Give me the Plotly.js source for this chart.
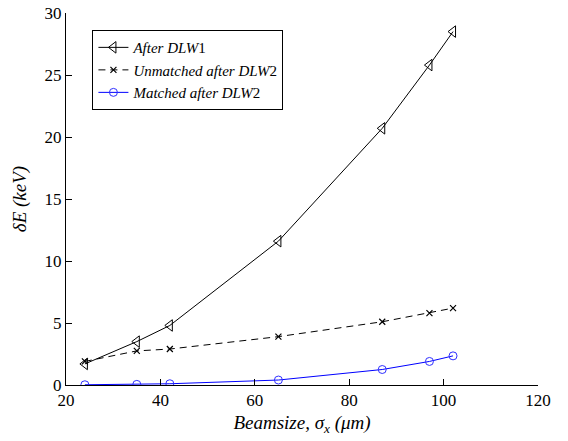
<!DOCTYPE html>
<html>
<head>
<meta charset="utf-8">
<script src="https://cdn.plot.ly/plotly-3.0.1.min.js"></script>
<style>html,body{margin:0;padding:0;background:#fff;}#chart{width:568px;height:441px;}</style>
</head>
<body>
<div id="chart"></div>
<script>
const beamsize = [24, 35, 42, 65, 87, 97, 102];
const afterDLW1 = [1.7, 3.5, 4.8, 11.6, 20.7, 25.8, 28.5];
const unmatchedDLW2 = [1.9, 2.75, 2.9, 3.9, 5.1, 5.8, 6.2];
const matchedDLW2 = [0.02, 0.05, 0.1, 0.4, 1.25, 1.9, 2.35];
const seriesNames = ['<i>After DLW</i>1', '<i>Unmatched after DLW</i>2', '<i>Matched after DLW</i>2'];

const traces = [
  {x: beamsize, y: afterDLW1, name: seriesNames[0], mode: 'lines+markers',
   line: {color: '#000', width: 1},
   marker: {symbol: 'triangle-left-open', size: 10, color: '#000', line: {width: 1}}},
  {x: beamsize, y: unmatchedDLW2, name: seriesNames[1], mode: 'lines+markers',
   line: {color: '#000', width: 1, dash: '7px,5px'},
   marker: {symbol: 'x-thin-open', size: 6, color: '#000', line: {width: 1.2, color: '#000'}}},
  {x: beamsize, y: matchedDLW2, name: seriesNames[2], mode: 'lines+markers',
   line: {color: '#0000ff', width: 1},
   marker: {symbol: 'circle-open', size: 8, color: '#3030ff', line: {width: 1}}}
];

const serif = 'Liberation Serif';
const layout = {
  width: 568, height: 441,
  margin: {l: 66, r: 30, t: 13, b: 56},
  paper_bgcolor: '#fff', plot_bgcolor: '#fff',
  font: {family: serif, size: 17, color: '#000'},
  showlegend: true,
  legend: {x: 0.056, y: 0.954, xanchor: 'left', yanchor: 'top',
           bordercolor: '#000', borderwidth: 1, bgcolor: '#fff',
           font: {family: serif, size: 15, color: '#000'},
           tracegroupgap: 0},
  xaxis: {range: [20, 120], dtick: 20, tick0: 20, showline: true, linecolor: '#000', linewidth: 1,
          ticks: 'inside', ticklen: 6, tickcolor: '#000', showgrid: false, zeroline: false,
          mirror: false, tickfont: {family: serif, size: 17},
          title: {text: '<i>Beamsize, σ<sub>x</sub> (μm)</i>', font: {family: serif, size: 19}, standoff: 6}},
  yaxis: {range: [0, 30], dtick: 5, showline: true, linecolor: '#000', linewidth: 1,
          ticks: 'inside', ticklen: 6, tickcolor: '#000', showgrid: false, zeroline: false,
          tickfont: {family: serif, size: 17},
          title: {text: '<i>δE (keV)</i>', font: {family: serif, size: 19}, standoff: 12}}
};

Plotly.newPlot('chart', traces, layout, {displayModeBar: false, staticPlot: true});
</script>
</body>
</html>
